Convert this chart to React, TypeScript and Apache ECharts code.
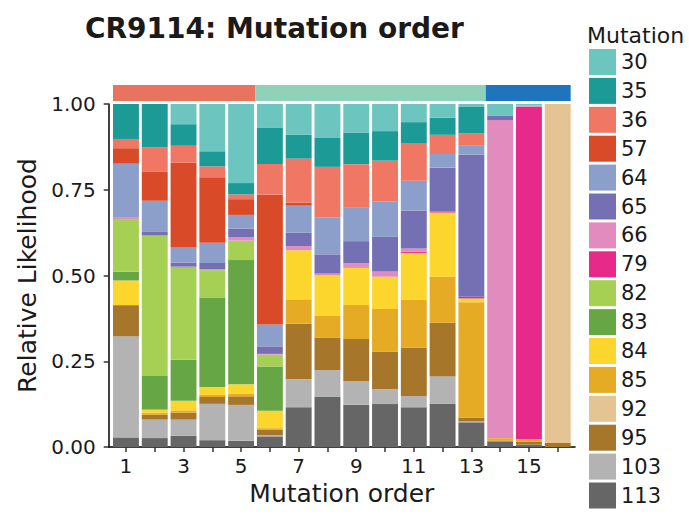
import React, { useEffect, useRef } from "react";
import * as echarts from "echarts";

const categories = ["1","2","3","4","5","6","7","8","9","10","11","12","13","14","15","16"];
const xLabelValues = [1, 3, 5, 7, 9, 11, 13, 15];

// legend order (top of stack first)
const mutations = ["30","35","36","57","64","65","66","79","82","83","84","85","92","95","103","113"];

const colors: Record<string, string> = {
  "30": "#6CC5BE",
  "35": "#1C9A96",
  "36": "#F07764",
  "57": "#D84A28",
  "64": "#8C9FCA",
  "65": "#7570B3",
  "66": "#E28BBF",
  "79": "#E7298A",
  "82": "#A6D054",
  "83": "#66A645",
  "84": "#FDD62D",
  "85": "#E5AB25",
  "92": "#E5C494",
  "95": "#A6762A",
  "103": "#B3B3B3",
  "113": "#666666",
};

const v113 = [0.028,0.026,0.033,0.020,0.018,0.031,0.116,0.146,0.123,0.125,0.116,0.126,0.072,0.016,0.007,0];
const v103 = [0.295,0.054,0.047,0.106,0.105,0.004,0.081,0.078,0.069,0.043,0.033,0.081,0.003,0,0,0];
const v95 = [0.091,0.014,0.020,0.020,0.025,0.015,0.162,0.095,0.122,0.110,0.142,0.156,0.011,0.003,0.008,0.012];
const v92 = [0,0,0,0,0,0,0,0,0,0,0,0,0,0,0,0.988];
const v85 = [0,0.006,0.007,0.006,0.007,0.005,0.071,0.064,0.099,0.124,0.139,0.134,0.336,0.007,0.008,0];
const v84 = [0.072,0.009,0.028,0.023,0.028,0.051,0.143,0.117,0.108,0.094,0.137,0.188,0.011,0,0,0];
const v83 = [0.026,0.098,0.120,0.260,0.363,0.129,0,0,0,0,0,0,0,0,0,0];
const v82 = [0.151,0.410,0.268,0.081,0.057,0.035,0,0,0,0,0,0,0,0,0,0];
const v79 = [0,0,0,0,0,0,0,0,0,0,0.003,0.003,0.005,0,0.969,0];
const v66 = [0.006,0,0.004,0.003,0.010,0.002,0.012,0.005,0.014,0.015,0.010,0,0,0.931,0.004,0];
const v65 = [0,0.010,0.012,0.018,0.025,0.022,0.039,0.056,0.064,0.101,0.111,0.128,0.415,0.012,0,0];
const v64 = [0.158,0.091,0.044,0.059,0.040,0.064,0.079,0.108,0.099,0.102,0.087,0.040,0.027,0,0,0];
const v57 = [0.045,0.084,0.247,0.191,0.046,0.379,0.009,0,0,0,0,0,0,0,0,0];
const v36 = [0.027,0.071,0.050,0.032,0.014,0.090,0.128,0.147,0.125,0.120,0.110,0.056,0.034,0,0,0];
const v35 = [0.102,0.127,0.063,0.044,0.033,0.105,0.070,0.084,0.091,0.086,0.061,0.050,0.079,0,0,0];
const v30 = [0,0,0.059,0.138,0.231,0.070,0.089,0.099,0.084,0.079,0.053,0.040,0.007,0.035,0.004,0];

const values: Record<string, number[]> = {
  "30": v30, "35": v35, "36": v36, "57": v57, "64": v64, "65": v65, "66": v66, "79": v79,
  "82": v82, "83": v83, "84": v84, "85": v85, "92": v92, "95": v95, "103": v103, "113": v113,
};

// top annotation strip: [first category index, last category index]
const groupRanges = [[0, 4], [5, 12], [13, 15]];
const groupColors = ["#E8735F", "#8FD1B9", "#1F74BF"];

const yTicks = [0, 0.25, 0.5, 0.75, 1];

const FONT = "DejaVu Sans, Verdana, sans-serif";
const W = 689;
const AXIS_LEFT = 108.7;
const AXIS_RIGHT = 114;
const X_MIN = 0.4;
const X_MAX = 16.6;
const TOP = 104;
const BOTTOM = 75;

export default function App() {
  const ref = useRef<HTMLDivElement>(null);
  useEffect(() => {
    if (!ref.current) return;
    const chart = echarts.init(ref.current, undefined, { renderer: "svg" });

    const xs = categories.map((c) => Number(c));
    const sums = categories.map((_, i) => mutations.reduce((s, m) => s + values[m][i], 0));
    const stackOrder = [...mutations].reverse(); // bottom first

    // the bar grid is inset so that category bands line up with the ggplot-like value axis
    const step = (W - AXIS_LEFT - AXIS_RIGHT) / (X_MAX - X_MIN);
    const inset = (1 - X_MIN - 0.5) * step; // 0.1 step
    const barGridLeft = AXIS_LEFT + inset;
    const barGridRight = AXIS_RIGHT + inset;

    const barSeries = stackOrder.map((m) => ({
      name: m,
      type: "bar",
      stack: "all",
      xAxisIndex: 1,
      yAxisIndex: 1,
      barCategoryGap: "10%",
      data: values[m].map((v, i) => v / sums[i]),
      itemStyle: { color: colors[m] },
      emphasis: { disabled: true },
    }));

    const nGroups = groupRanges.length;
    const stripSeries = {
      type: "custom",
      name: "__strip",
      silent: true,
      clip: false,
      xAxisIndex: 1,
      yAxisIndex: 1,
      encode: { x: 0, y: 2 },
      data: groupRanges.map((r) => [r[0], r[1], 1]),
      renderItem: (params: any, api: any) => {
        const s = api.coord([api.value(0), 1]);
        const e = api.coord([api.value(1), 1]);
        const band = api.size([1, 0])[0];
        const bw = band * 0.9;
        const idx = params.dataIndex;
        const x0 = idx === 0 ? s[0] - bw / 2 : s[0] - band / 2;
        const x1 = idx === nGroups - 1 ? e[0] + bw / 2 : e[0] + band / 2;
        return {
          type: "rect",
          shape: { x: x0, y: s[1] - 19, width: x1 - x0, height: 16 },
          style: { fill: groupColors[idx] },
        };
      },
    };

    chart.setOption({
      animation: false,
      backgroundColor: "#ffffff",
      textStyle: { fontFamily: FONT },
      title: [
        {
          text: "CR9114: Mutation order",
          left: 85,
          top: 14,
          padding: 0,
          textStyle: { fontFamily: FONT, fontSize: 28, fontWeight: "bold", color: "#1a1a1a" },
        },
        {
          text: "Mutation",
          left: 587,
          top: 24,
          padding: 0,
          textStyle: { fontFamily: FONT, fontSize: 22, fontWeight: "normal", color: "#1a1a1a" },
        },
      ],
      legend: {
        data: mutations,
        orient: "vertical",
        left: 589,
        top: 49,
        padding: 0,
        itemWidth: 27,
        itemHeight: 26,
        itemGap: 2.9,
        icon: "rect",
        selectedMode: false,
        textStyle: { fontFamily: FONT, fontSize: 21, color: "#1a1a1a", lineHeight: 26 },
      },
      grid: [
        { left: AXIS_LEFT, right: AXIS_RIGHT, top: TOP, bottom: BOTTOM, containLabel: false },
        { left: barGridLeft, right: barGridRight, top: TOP, bottom: BOTTOM, containLabel: false },
      ],
      xAxis: [
        {
          type: "value",
          gridIndex: 0,
          min: X_MIN,
          max: X_MAX,
          name: "Mutation order",
          nameLocation: "middle",
          nameGap: 34,
          nameTextStyle: { fontFamily: FONT, fontSize: 25, color: "#1a1a1a" },
          splitLine: { show: false },
          axisLine: { lineStyle: { color: "#000", width: 1.5 } },
          axisTick: { customValues: xs, length: 5, lineStyle: { color: "#333", width: 1.5 } },
          axisLabel: { customValues: xLabelValues, margin: 9, fontFamily: FONT, fontSize: 20, color: "#1a1a1a" },
        },
        {
          type: "category",
          gridIndex: 1,
          data: categories,
          show: false,
        },
      ],
      yAxis: [
        {
          type: "value",
          gridIndex: 0,
          min: 0,
          max: 1,
          interval: 0.25,
          name: "Relative Likelihood",
          nameLocation: "middle",
          nameGap: 57,
          nameTextStyle: { fontFamily: FONT, fontSize: 25, color: "#1a1a1a" },
          axisLine: { show: true, lineStyle: { color: "#000", width: 1.5 } },
          axisTick: { show: true, length: 5, lineStyle: { color: "#333", width: 1.5 } },
          splitLine: { show: false },
          axisLabel: {
            margin: 13,
            fontFamily: FONT,
            fontSize: 20,
            color: "#1a1a1a",
            formatter: (v: number) => (yTicks.includes(v) ? v.toFixed(2) : ""),
          },
        },
        {
          type: "value",
          gridIndex: 1,
          min: 0,
          max: 1,
          show: false,
          splitLine: { show: false },
        },
      ],
      series: [...barSeries, stripSeries],
    });
    return () => chart.dispose();
  }, []);
  return <div ref={ref} style={{ position: "fixed", left: 0, top: 0, width: W, height: 522 }} />;
}
